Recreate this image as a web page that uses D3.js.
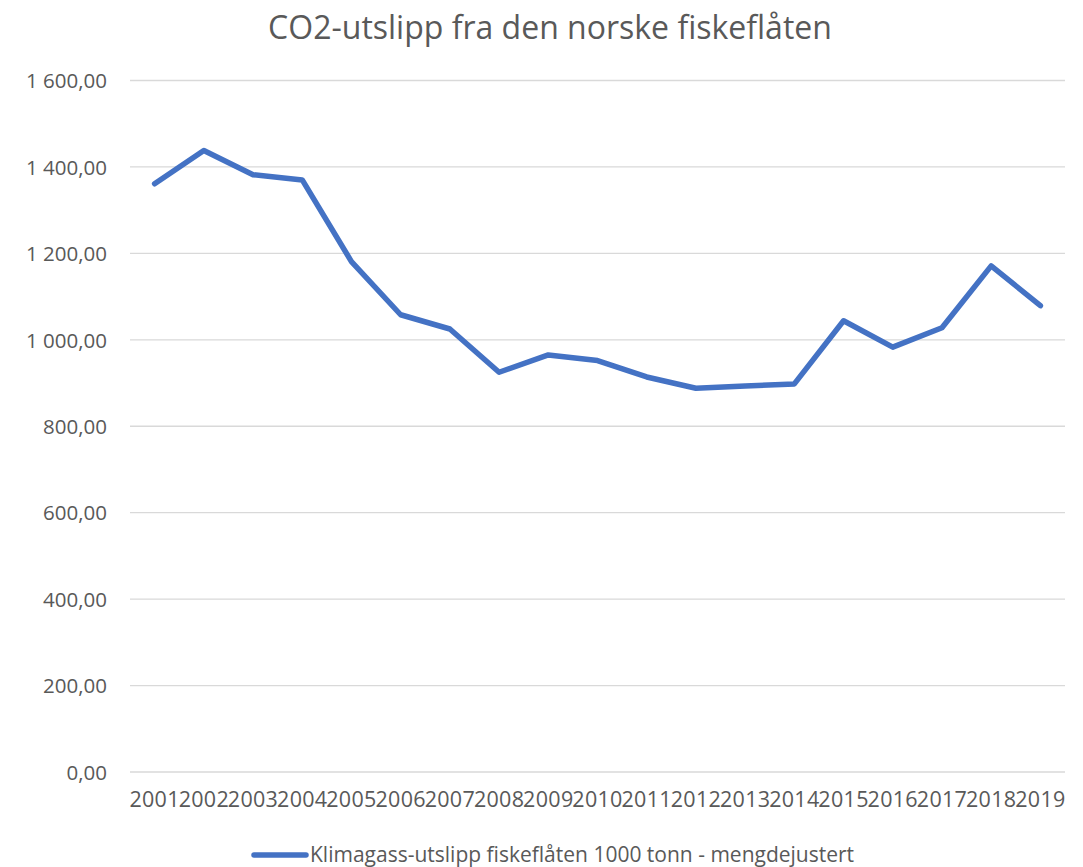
<!DOCTYPE html>
<html>
<head>
<meta charset="utf-8">
<script src="https://d3js.org/d3.v7.min.js"></script>
<style>
  body { margin: 0; background: #fff; }
  svg text { font-family: "Open Sans", sans-serif; fill: #595959; }
</style>
</head>
<body>
<svg id="chart" width="1083" height="867"></svg>
<script>
// data
var years = ["2001","2002","2003","2004","2005","2006","2007","2008","2009","2010",
             "2011","2012","2013","2014","2015","2016","2017","2018","2019"];
var utslipp = [1361, 1438, 1382, 1370, 1181, 1058, 1025, 925, 965, 952,
               914, 888, 893, 898, 1044, 983, 1028, 1171, 1079];
var yTicks = [0, 200, 400, 600, 800, 1000, 1200, 1400, 1600];
var seriesName = "Klimagass-utslipp fiskeflåten 1000 tonn - mengdejustert";

var margin = {top: 80.5, left: 130, right: 18, bottom: 95};
var width = 1083, height = 867;

var svg = d3.select("#chart");

var x = d3.scaleBand().domain(years).range([margin.left, width - margin.right]).padding(0);
var y = d3.scaleLinear().domain([0, 1600]).range([height - margin.bottom, margin.top]);

// norwegian number format: "1 600,00"
function fmt(v) {
  var s = d3.format(",.2f")(v);
  return s.replace(/,/g, " ").replace(".", ",");
}

// title
svg.append("text")
  .attr("x", 550).attr("y", 39)
  .attr("text-anchor", "middle")
  .style("font-size", "32px")
  .text("CO2-utslipp fra den norske fiskeflåten");

// gridlines
svg.append("g")
  .selectAll("line")
  .data(yTicks)
  .join("line")
    .attr("x1", margin.left).attr("x2", width - margin.right)
    .attr("y1", d => y(d)).attr("y2", d => y(d))
    .attr("stroke", "#d9d9d9").attr("stroke-width", 1.3);

// y axis labels
var yAxis = d3.axisLeft(y).tickValues(yTicks).tickFormat(fmt).tickSize(0).tickPadding(23);
var gy = svg.append("g")
  .attr("transform", "translate(" + margin.left + ",0)")
  .call(yAxis);
gy.select(".domain").remove();
gy.selectAll("text").style("font-size", "20.5px").attr("dy", "0.35em");

// x axis labels
var xAxis = d3.axisBottom(x).tickSize(0).tickPadding(20);
var gx = svg.append("g")
  .attr("transform", "translate(0," + y(0) + ")")
  .call(xAxis);
gx.select(".domain").remove();
gx.selectAll("text").style("font-size", "21.5px").style("letter-spacing", "0.3px");

// line
var line = d3.line()
  .x((d, i) => x(years[i]) + x.bandwidth() / 2)
  .y(d => y(d));

svg.append("path")
  .datum(utslipp)
  .attr("fill", "none")
  .attr("stroke", "#4472c4")
  .attr("stroke-width", 5.5)
  .attr("stroke-linejoin", "round")
  .attr("stroke-linecap", "round")
  .attr("d", line);

// legend
var lg = svg.append("g").attr("transform", "translate(254,855)");
lg.append("line")
  .attr("x1", 0).attr("x2", 52)
  .attr("stroke", "#4472c4").attr("stroke-width", 5.5)
  .attr("stroke-linecap", "round");
lg.append("text")
  .attr("x", 56).attr("y", 0).attr("dy", "0.35em")
  .style("font-size", "21px")
  .text(seriesName);
</script>
</body>
</html>
